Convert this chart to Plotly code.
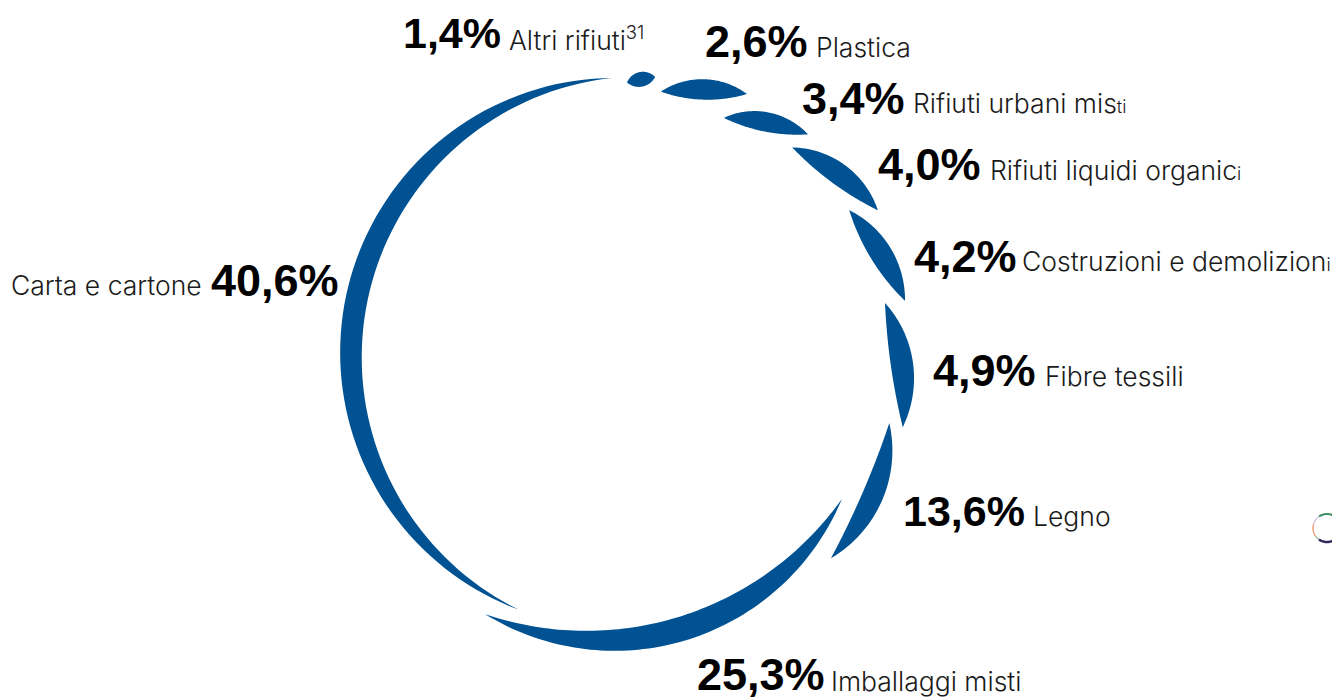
import math
import plotly.graph_objects as go

# ---- data ----
categories = ["Altri rifiuti", "Plastica", "Rifiuti urbani misti", "Rifiuti liquidi organici",
              "Costruzioni e demolizioni", "Fibre tessili", "Legno", "Imballaggi misti", "Carta e cartone"]
values = [1.4, 2.6, 3.4, 4.0, 4.2, 4.9, 13.6, 25.3, 40.6]
label_markup = ["Altri rifiuti<sup>31</sup>", "Plastica",
                "Rifiuti urbani mis<span style=\"font-size:18px\">ti</span>",
                "Rifiuti liquidi organic<span style=\"font-size:18px\">i</span>",
                "Costruzioni e demolizion<span style=\"font-size:18px\">i</span>",
                "Fibre tessili", "Legno", "Imballaggi misti", "Carta e cartone"]

# ---- decorative petal geometry (the source petals are not drawn to scale) ----
ang_start = [0.0, 7.1, 21.5, 37.4, 55.4, 76.8, 102.8, 122.2, 203.8]
ang_end = [5.6, 24.0, 38.3, 58.6, 77.3, 103.0, 133.7, 209.5, 357.0]
rad_start = [281, 274, 264, 272, 270, 265, 269, 254, 269]
rad_end = [288, 295, 292, 294, 285, 283, 282, 288, 286]
mid_out = [292, 295, 289, 295, 287.7, 286, 289.5, 282, 288.5]
mid_in = [277, 274, 268.5, 273, 265.5, 263.5, 268.5, 257.5, 266.5]

# ---- text layout, pixels ----
num_x = [402, 704, 801, 877, 913, 932, 902, 696, 210]
num_y = [33, 41, 98, 164, 256, 371, 511, 674, 280]
num_size = [43, 45, 45, 45, 45, 45, 43, 45, 45]
lab_x = [508, 815, 912, 989, 1021, 1044, 1032, 830, 10]
lab_y = [38, 47, 103, 170, 261, 376, 516, 681, 285]

W, H = 1332, 697
CX, CY, RMAX = 627, 363.5, 300
BLUE = "#005293"
N = 80


def cart(a, r):
    a = math.radians(a)
    return r * math.sin(a), r * math.cos(a)


def arc_through(p, m, q, n=N):
    """Circular arc from p through m to q, as (x, y) points."""
    d = 2 * (p[0] * (m[1] - q[1]) + m[0] * (q[1] - p[1]) + q[0] * (p[1] - m[1]))
    s = lambda v: v[0] ** 2 + v[1] ** 2
    ux = (s(p) * (m[1] - q[1]) + s(m) * (q[1] - p[1]) + s(q) * (p[1] - m[1])) / d
    uy = (s(p) * (q[0] - m[0]) + s(m) * (p[0] - q[0]) + s(q) * (m[0] - p[0])) / d
    rr = math.hypot(p[0] - ux, p[1] - uy)
    a0 = math.atan2(p[1] - uy, p[0] - ux)
    a1 = math.atan2(q[1] - uy, q[0] - ux)
    am = math.atan2(m[1] - uy, m[0] - ux)
    # go the way that passes through m
    da = (a1 - a0) % (2 * math.pi)
    if (am - a0) % (2 * math.pi) > da:
        da -= 2 * math.pi
    return [(ux + rr * math.cos(a0 + da * k / n), uy + rr * math.sin(a0 + da * k / n)) for k in range(n + 1)]


fig = go.Figure()
for i, name in enumerate(categories):
    a_mid = (ang_start[i] + ang_end[i]) / 2
    p = cart(ang_start[i], rad_start[i])
    q = cart(ang_end[i], rad_end[i])
    outer = arc_through(p, cart(a_mid, mid_out[i]), q)
    inner = arc_through(q, cart(a_mid, mid_in[i]), p)
    pts = outer + inner
    theta = [math.degrees(math.atan2(x, y)) % 360 for x, y in pts]
    r = [math.hypot(x, y) for x, y in pts]
    fig.add_trace(go.Scatterpolar(theta=theta, r=r, mode="lines", fill="toself", fillcolor=BLUE,
                                  line=dict(color=BLUE, width=0), name=name, hoverinfo="name", showlegend=False))

annotations = []
for i, v in enumerate(values):
    annotations.append(dict(text="<b>" + f"{v:.1f}".replace(".", ",") + "%</b>", x=num_x[i] / W, y=1 - num_y[i] / H,
                            xref="paper", yref="paper", xanchor="left", yanchor="middle", showarrow=False,
                            borderpad=0, font=dict(family="Liberation Sans", size=num_size[i], color="#000000")))
    annotations.append(dict(text=label_markup[i], x=lab_x[i] / W, y=1 - lab_y[i] / H,
                            xref="paper", yref="paper", xanchor="left", yanchor="middle", showarrow=False,
                            borderpad=0, font=dict(family="Inter", size=26.5, color="#1a1a1a", weight=300)))


def arc(a0, a1, cx=1327, cy=528, rr=14):
    pts = []
    for k in range(25):
        a = math.radians(a0 + (a1 - a0) * k / 24)
        pts.append((cx + rr * math.sin(a), cy - rr * math.cos(a)))
    return "M" + " L".join(f"{x / W:.5f},{1 - y / H:.5f}" for x, y in pts)


shapes = [dict(type="path", xref="paper", yref="paper", path=arc(a, b), line=dict(color=c, width=w))
          for a, b, c, w in [(-35, 30, "#3f8f63", 2), (-75, -35, "#d9c9e6", 1.5),
                             (-125, -75, "#f08a5d", 1.2), (-125, -145, "#8fae8f", 1.2),
                             (145, 215, "#2e2a5e", 2.5)]]

fig.update_layout(
    width=W, height=H, margin=dict(l=0, r=0, t=0, b=0), paper_bgcolor="#ffffff", showlegend=False,
    polar=dict(domain=dict(x=[(CX - RMAX) / W, (CX + RMAX) / W],
                           y=[1 - (CY + RMAX) / H, 1 - (CY - RMAX) / H]),
               bgcolor="rgba(0,0,0,0)",
               angularaxis=dict(visible=False, rotation=90, direction="clockwise"),
               radialaxis=dict(visible=False, range=[0, RMAX])),
    annotations=annotations, shapes=shapes)

fig.write_html("out.html", config={"displayModeBar": False},
               post_script="document.body.style.margin='0';document.body.style.overflow='hidden';")
